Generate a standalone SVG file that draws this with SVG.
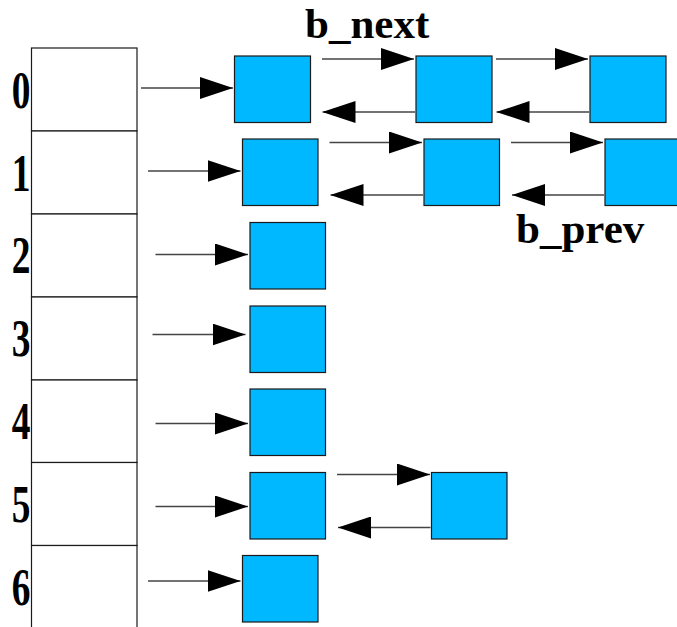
<svg xmlns="http://www.w3.org/2000/svg" width="677" height="627" viewBox="0 0 677 627">
  <style>
    .cell { fill: #ffffff; stroke: #1a1a1a; stroke-width: 1.2; }
    .box { fill: #00b8ff; stroke: #1a1a1a; stroke-width: 1.2; }
    .idx { font-family: "Liberation Serif", "Times New Roman", serif; font-weight: bold; font-size: 52px; fill: #000; text-anchor: middle; }
    .lbl { font-family: "Liberation Serif", "Times New Roman", serif; font-weight: bold; font-size: 43px; fill: #000; }
    .ptr { stroke: #444; stroke-width: 1.3; fill: none; marker-end: url(#head); }
  </style>
  <defs>
    <marker id="head" markerUnits="userSpaceOnUse" markerWidth="33" markerHeight="22" viewBox="0 0 33 22" refX="33" refY="11" orient="auto">
      <path d="M0,0 L33,11 L0,22 z" fill="#000"/>
    </marker>
  </defs>
  <rect width="677" height="627" fill="#fff"/>

  <!-- bucket array -->
  <g id="table">
    <rect class="cell" x="31.5" y="48" width="105.5" height="83"/>
    <rect class="cell" x="31.5" y="131" width="105.5" height="83"/>
    <rect class="cell" x="31.5" y="214" width="105.5" height="83"/>
    <rect class="cell" x="31.5" y="297" width="105.5" height="83"/>
    <rect class="cell" x="31.5" y="380" width="105.5" height="82.5"/>
    <rect class="cell" x="31.5" y="462.5" width="105.5" height="83"/>
    <rect class="cell" x="31.5" y="545.5" width="105.5" height="90"/>
  </g>

  <!-- bucket indices -->
  <g id="indices">
    <text class="idx" transform="translate(21,107.5) scale(0.72,1)">0</text>
    <text class="idx" transform="translate(21,190.5) scale(0.72,1)">1</text>
    <text class="idx" transform="translate(21,273) scale(0.72,1)">2</text>
    <text class="idx" transform="translate(21,356) scale(0.72,1)">3</text>
    <text class="idx" transform="translate(21,439) scale(0.72,1)">4</text>
    <text class="idx" transform="translate(21,522) scale(0.72,1)">5</text>
    <text class="idx" transform="translate(21,605) scale(0.72,1)">6</text>
  </g>

  <!-- list elements -->
  <g id="n0a"><rect class="box" x="234.5" y="56" width="76" height="66.5"/></g>
  <g id="n0b"><rect class="box" x="416" y="56" width="76" height="66.5"/></g>
  <g id="n0c"><rect class="box" x="590" y="56" width="76" height="66.5"/></g>
  <g id="n1a"><rect class="box" x="242.5" y="139" width="75.5" height="66.5"/></g>
  <g id="n1b"><rect class="box" x="424" y="139" width="75.5" height="66.5"/></g>
  <g id="n1c"><rect class="box" x="605" y="139" width="76" height="66.5"/></g>
  <g id="n2"><rect class="box" x="250" y="222.5" width="75.5" height="66.5"/></g>
  <g id="n3"><rect class="box" x="250" y="306" width="75.5" height="66.5"/></g>
  <g id="n4"><rect class="box" x="250" y="389" width="75.5" height="66.5"/></g>
  <g id="n5a"><rect class="box" x="250" y="472.5" width="75.5" height="66.5"/></g>
  <g id="n5b"><rect class="box" x="431.5" y="472.5" width="75.5" height="66.5"/></g>
  <g id="n6"><rect class="box" x="242.5" y="555.5" width="75.5" height="66.5"/></g>

  <!-- pointers -->
  <g id="connectors">
    <!-- bucket heads -->
    <line class="ptr" x1="141" y1="88" x2="233" y2="88"/>
    <line class="ptr" x1="148" y1="171" x2="240.5" y2="171"/>
    <line class="ptr" x1="155.5" y1="254.5" x2="248" y2="254.5"/>
    <line class="ptr" x1="152.5" y1="334.5" x2="245.5" y2="334.5"/>
    <line class="ptr" x1="155.5" y1="423.5" x2="248" y2="423.5"/>
    <line class="ptr" x1="155.5" y1="506.5" x2="248" y2="506.5"/>
    <line class="ptr" x1="148" y1="581" x2="240.5" y2="581"/>
    <!-- b_next links -->
    <line class="ptr" x1="322" y1="59" x2="414" y2="59"/>
    <line class="ptr" x1="496" y1="59" x2="588" y2="59"/>
    <line class="ptr" x1="329.5" y1="142.5" x2="422" y2="142.5"/>
    <line class="ptr" x1="511" y1="142.5" x2="603" y2="142.5"/>
    <line class="ptr" x1="337" y1="474.5" x2="430" y2="474.5"/>
    <!-- b_prev links -->
    <line class="ptr" x1="415" y1="112" x2="322.5" y2="112"/>
    <line class="ptr" x1="589" y1="112" x2="496.5" y2="112"/>
    <line class="ptr" x1="423" y1="195" x2="330.5" y2="195"/>
    <line class="ptr" x1="604" y1="195" x2="512" y2="195"/>
    <line class="ptr" x1="430.5" y1="527.5" x2="338" y2="527.5"/>
  </g>

  <!-- link labels -->
  <text class="lbl" x="305" y="38">b_next</text>
  <text class="lbl" x="516" y="243">b_prev</text>
</svg>
